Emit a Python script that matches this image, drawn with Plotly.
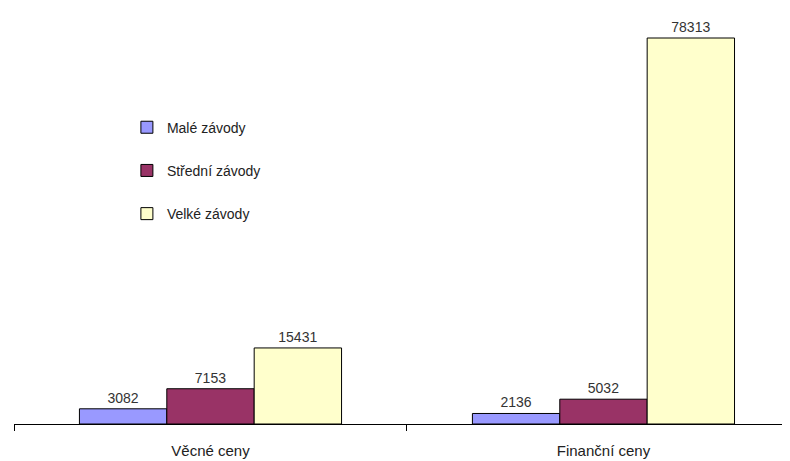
import plotly.graph_objects as go

categories = ["Věcné ceny", "Finanční ceny"]
series_names = ["Malé závody", "Střední závody", "Velké závody"]
male = [3082, 2136]
stredni = [7153, 5032]
velke = [15431, 78313]
colors = ["#9999FF", "#993366", "#FFFFCC"]

fig = go.Figure()
for i, (name, vals) in enumerate(zip(series_names, [male, stredni, velke])):
    fig.add_trace(go.Bar(
        x=categories, y=vals, name=name,
        marker=dict(color=colors[i], line=dict(color="#000000", width=1)),
        text=[str(v) for v in vals], textposition="outside",
        textfont=dict(size=14, color="#333333", family="Liberation Sans, Arial"),
        cliponaxis=False, legendgroup=name,
    ))

fig.update_layout(
    width=790, height=461,
    margin=dict(l=6, r=0, t=5, b=45),
    paper_bgcolor="white", plot_bgcolor="white",
    barmode="group", bargap=0.333, bargroupgap=0,
    font=dict(family="Liberation Sans, Arial", size=14, color="#222222"),
    legend=dict(x=0.144, y=0.76, xanchor="left", yanchor="top",
                traceorder="grouped", tracegroupgap=22,
                font=dict(size=14, color="#222222"),
                itemwidth=30, bgcolor="rgba(0,0,0,0)"),
    xaxis=dict(range=[-0.5, 1.495], showline=True, linecolor="#000000",
               linewidth=1, ticks="outside", tickson="boundaries",
               ticklen=6, tickcolor="#000000", showgrid=False,
               ticklabelstandoff=13,
               tickfont=dict(size=15, color="#222222")),
    yaxis=dict(range=[0, 83386], visible=False, showgrid=False),
)

fig.write_html("out.html")
